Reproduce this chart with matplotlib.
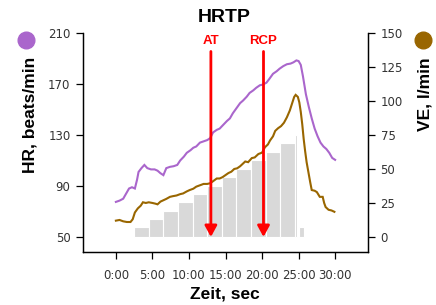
import matplotlib
matplotlib.use("Agg")
import matplotlib.pyplot as plt
from matplotlib.ticker import FixedLocator, FuncFormatter

# ---------------- data ----------------
hr_t = [0.0, 0.5, 1.0, 1.5, 1.8, 2.2, 2.6, 2.9, 3.1, 3.5, 3.9, 4.3, 4.8, 5.3, 5.7, 6.1,
        6.5, 6.9, 7.4, 7.9, 8.4, 8.8, 9.3, 9.7, 10.2, 10.6, 11.0, 11.5, 12.0, 12.5, 12.9,
        13.3, 13.8, 14.2, 14.7, 15.2, 15.6, 16.0, 16.5, 17.0, 17.4, 17.9, 18.3, 18.8, 19.2,
        19.7, 20.1, 20.6, 21.0, 21.5, 22.0, 22.4, 22.9, 23.4, 23.9, 24.3, 24.7, 25.0, 25.3,
        25.6, 26.0, 26.4, 26.8, 27.2, 27.6, 28.0, 28.4, 28.8, 29.2, 29.6, 30.0]
hr_v = [77.5, 78.5, 80, 85, 88, 89, 88, 95, 101, 104, 106.5, 104, 103, 103, 102, 100,
        98.5, 104, 105, 105.5, 106.5, 110, 113, 116, 118, 120, 121, 124, 125, 126, 127.5,
        132, 134, 135, 138, 141, 143, 147, 151, 155, 157, 160, 163, 165, 167,
        169, 169.5, 171, 174, 178, 180, 182, 184, 185.5, 186, 187, 188.5, 188, 185,
        176, 162, 152, 143, 135, 129, 124, 121, 119, 116, 112, 110.5]

ve_t = [0.0, 0.5, 1.0, 1.5, 2.0, 2.3, 2.6, 3.0, 3.4, 3.7, 4.1, 4.5, 5.0, 5.4, 5.7, 6.1,
        6.5, 6.9, 7.4, 7.8, 8.3, 8.8, 9.2, 9.7, 10.1, 10.6, 11.0, 11.5, 12.0, 12.5, 12.9,
        13.3, 13.8, 14.2, 14.6, 15.0, 15.4, 15.8, 16.2, 16.6, 17.0, 17.4, 17.7, 18.1, 18.6,
        19.0, 19.5, 20.0, 20.4, 20.8, 21.1, 21.5, 21.8, 22.2, 22.6, 23.0, 23.4, 23.8, 24.1,
        24.4, 24.6, 24.9, 25.1, 25.3, 25.5, 25.7, 25.9, 26.1, 26.3, 26.6, 26.8, 27.2, 27.5,
        27.9, 28.3, 28.5, 28.7, 29.1, 29.5, 29.9]
ve_v = [12, 12.5, 11.5, 11, 11, 13, 18, 21, 23, 25.5, 25, 25.5, 25, 24.5, 24, 26,
        27, 28, 29.5, 30, 30.5, 31.5, 32, 33.5, 34.5, 35.5, 37, 38, 39, 39, 39.5,
        41, 43, 43, 44, 45.5, 47, 48, 50, 50.5, 52, 54, 55.5, 55, 58,
        58.5, 61, 62, 66, 68, 71, 74, 78, 80, 81.5, 84, 88, 93, 98,
        103, 104.5, 103, 99, 92, 83, 72, 63, 55, 49, 40, 34.5, 34, 33,
        29.5, 29.5, 25, 22, 20, 19.5, 18.5]

stage_start = [2.5, 4.5, 6.5, 8.5, 10.5, 12.5, 14.5, 16.5, 18.5, 20.5, 22.5, 24.5, 25.0]
stage_end = [4.5, 6.5, 8.5, 10.5, 12.5, 14.5, 16.5, 18.5, 20.5, 22.5, 24.5, 24.85, 25.8]
stage_load = [7, 13, 19, 25.5, 31.5, 37.5, 44, 50, 56.5, 62.5, 69, 75, 7]

markers = ["AT", "RCP"]
marker_t = [13.0, 20.2]

x_ticks = [0, 5, 10, 15, 20, 25, 30]
hr_ticks = [50, 90, 130, 170, 210]
ve_ticks = [0, 25, 50, 75, 100, 125, 150]

title = "HRTP"
x_label = "Zeit, sec"
hr_label = "HR, beats/min"
ve_label = "VE, l/min"

# ---------------- styling ----------------
HR_COLOR = "#AA66CC"
VE_COLOR = "#996600"
BAR_COLOR = "#D9D9D9"
RED = "#FF0000"
TICK_COLOR = "#333333"
BOLD_FONT = ["Liberation Sans", "DejaVu Sans"]

fig = plt.figure(figsize=(4.36, 3.05), dpi=100)
ax = fig.add_axes([83 / 436, 1 - 252 / 305, (368 - 83) / 436, (252 - 33) / 305])
ax2 = ax.twinx()

hr_min, hr_max = 38.2, 210
ax.set_ylim(hr_min, hr_max)
# right axis maps 0..150 onto 50..210 of the left axis
ve_lo = (hr_min - 50) * 150 / 160
ax2.set_ylim(ve_lo, 150)
ax.set_xlim(-4.5, 34.5)

# bars (load stages)
widths = [e - s for s, e in zip(stage_start, stage_end)]
ax2.bar(stage_start, stage_load, width=widths, align="edge", color=BAR_COLOR,
        edgecolor="white", linewidth=0.8, zorder=1)

# lines
ax.plot(hr_t, hr_v, color=HR_COLOR, lw=1.5, zorder=3, solid_joinstyle="miter")
ax2.plot(ve_t, ve_v, color=VE_COLOR, lw=1.5, zorder=3, solid_joinstyle="miter")

# AT / RCP arrows (in left-axis coords)
for name, t in zip(markers, marker_t):
    ax.annotate("", xy=(t, 50), xytext=(t, 195.5),
                arrowprops=dict(arrowstyle="-|>,head_length=0.55,head_width=0.3",
                                color=RED, lw=2, shrinkA=0, shrinkB=0,
                                mutation_scale=12),
                zorder=5, annotation_clip=False)
    ax.text(t, 203.5, name, color=RED, fontsize=9.5, fontweight="bold",
            ha="center", va="center", family=BOLD_FONT, zorder=5)

# spines
for a in (ax, ax2):
    a.spines["top"].set_visible(False)
    for s in ("left", "right", "bottom"):
        a.spines[s].set_linewidth(0.9)
        a.spines[s].set_color("black")
ax.spines["left"].set_bounds(hr_min, hr_max)
ax2.spines["right"].set_bounds(ve_lo, 150)
ax.patch.set_visible(False)
ax2.set_zorder(ax.get_zorder() + 1)
ax.set_zorder(ax2.get_zorder() + 1)
ax.patch.set_visible(False)

# ticks
ax.xaxis.set_major_locator(FixedLocator(x_ticks))
ax.xaxis.set_major_formatter(FuncFormatter(lambda v, p: f"{int(v)}:00"))
ax.yaxis.set_major_locator(FixedLocator(hr_ticks))
ax2.yaxis.set_major_locator(FixedLocator(ve_ticks))
ax.tick_params(axis="x", direction="out", length=5, width=0.9, pad=7,
               labelsize=8.5, labelcolor=TICK_COLOR)
ax.tick_params(axis="y", direction="out", length=5, width=0.9, pad=4,
               labelsize=8.5, labelcolor=TICK_COLOR)
ax2.tick_params(axis="y", direction="out", length=5, width=0.9, pad=4,
                labelsize=8.5, labelcolor=TICK_COLOR)
ax2.tick_params(axis="x", bottom=False, labelbottom=False)

# titles and labels
fig.text(224 / 436, 1 - 17 / 305, title, ha="center", va="center",
         fontsize=14, fontweight="bold", family=BOLD_FONT)
fig.text(225 / 436, 1 - 294 / 305, x_label, ha="center", va="center",
         fontsize=12.5, fontweight="bold", family=BOLD_FONT)
fig.text(30 / 436, 1 - 57 / 305, hr_label, ha="center", va="top", rotation=90,
         fontsize=12.5, fontweight="bold", family=BOLD_FONT)
fig.text(425 / 436, 1 - 57 / 305, ve_label, ha="center", va="top", rotation=90,
         fontsize=12.5, fontweight="bold", family=BOLD_FONT)

# legend dots
fig.lines.append(plt.Line2D([25.7 / 436], [1 - 40 / 305], marker="o", markersize=12,
                            color=HR_COLOR, transform=fig.transFigure, linestyle="none"))
fig.lines.append(plt.Line2D([422.7 / 436], [1 - 40 / 305], marker="o", markersize=12,
                            color=VE_COLOR, transform=fig.transFigure, linestyle="none"))

fig.savefig("out.png", dpi=100)
